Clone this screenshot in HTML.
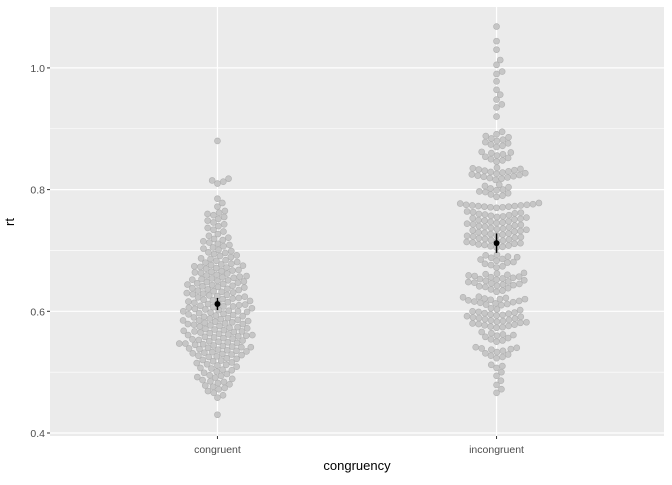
<!DOCTYPE html>
<html><head><meta charset="utf-8"><style>
body{margin:0;background:#fff;font-family:"Liberation Sans",sans-serif}
</style></head><body>
<svg id="chart" width="672" height="480" xmlns="http://www.w3.org/2000/svg">
<rect x="50" y="7" width="614" height="429" fill="#ebebeb"/>
<g id="grid"></g><g id="pts"></g><g id="axes"></g>
<text x="14" y="222" transform="rotate(-90 14 222)" font-size="13" text-anchor="middle" fill="#000">rt</text>
<text x="357" y="470" font-size="13" text-anchor="middle" fill="#000">congruency</text>
</svg>
<script>
const categories=["congruent","incongruent"];
const congruentRt=[430,458,462,466,469,472,474,476,478,480,482,484,485,487,489,491,492,494,495,497,499,501,503,504,506,507,509,511,512,513,515,516,518,519,520,522,523,525,526,527,528,529,530,531,532,533,534,535,536,537,538,539,540,541,541,542,543,544,545,546,547,547,548,549,550,551,552,553,554,555,556,557,558,559,560,561,561,562,563,564,565,566,567,567,568,569,570,571,572,573,574,575,576,577,578,579,579,580,581,582,583,584,585,585,586,587,588,589,590,591,592,593,594,595,596,597,598,599,600,600,601,602,603,604,605,606,607,608,608,609,610,611,612,613,614,615,616,617,618,619,620,621,622,623,624,625,626,627,628,629,630,631,632,633,634,635,636,637,638,639,640,641,642,643,644,645,646,647,648,649,650,651,652,653,654,655,656,657,658,659,660,662,663,664,665,666,667,668,670,671,672,673,674,675,676,677,678,680,681,683,684,686,687,689,691,692,694,696,697,699,701,703,705,707,709,711,713,715,717,719,721,724,727,731,734,737,740,743,746,749,752,755,758,760,762,765,772,778,785,810,813,815,818,880];
const incongruentRt=[466,472,479,486,494,500,507,510,512,523,525,527,529,531,533,535,537,538,539,540,541,550,552,554,556,558,560,561,562,564,566,573,574,575,576,577,578,579,580,581,582,583,584,585,586,587,588,589,590,591,592,593,594,595,596,597,598,599,600,602,603,605,610,611,612,613,614,615,616,617,618,619,620,620,621,622,623,624,632,634,636,638,640,641,642,643,644,645,646,647,648,649,650,651,652,653,654,655,656,657,658,659,660,661,662,663,672,674,676,678,680,681,683,685,686,688,689,690,692,693,705,706,707,708,709,710,711,712,713,714,715,716,717,718,719,720,721,722,723,724,725,726,727,728,729,730,731,732,733,734,735,736,737,738,739,740,741,742,743,744,745,746,747,748,749,750,751,752,753,754,755,756,757,758,759,760,761,762,763,764,770,771,771,772,772,773,773,774,774,775,775,776,777,778,788,790,792,794,796,797,799,800,802,804,806,808,816,818,819,820,821,822,823,824,825,826,827,828,829,830,831,832,833,834,835,836,846,848,850,852,854,856,858,860,861,862,870,872,874,876,878,880,882,884,886,888,891,895,920,935,940,948,956,964,978,990,994,1005,1013,1030,1044,1068];
const means=[0.612,0.712];
const errLo=[0.602,0.696];
const errHi=[0.622,0.728];
const yTicks=[0.4,0.6,0.8,1.0];
const yMinor=[0.5,0.7,0.9];

const NS="http://www.w3.org/2000/svg";
const L=50,W=614,T=7,B=436;
const y=v=>433-(v-0.4)*608.5;
const x=i=>L+(i+0.6)/2.2*W;
function el(tag,attrs,parent){const e=document.createElementNS(NS,tag);for(const k in attrs)e.setAttribute(k,attrs[k]);parent.appendChild(e);return e;}
const grid=document.getElementById('grid'),pts=document.getElementById('pts'),axes=document.getElementById('axes');
yMinor.forEach(v=>{const l=el('line',{x1:L,x2:L+W,y1:y(v),y2:y(v),stroke:'#fff','stroke-width':0.6},grid);

});
yTicks.forEach(v=>{const l=el('line',{x1:L,x2:L+W,y1:y(v),y2:y(v),stroke:'#fff','stroke-width':1.2},grid);


const t=el('text',{x:L-5,y:y(v)+4,'font-size':10.5,'text-anchor':'end',fill:'#4d4d4d'},axes);t.textContent=v.toFixed(1);


const tk=el('line',{x1:L-3,x2:L,y1:y(v),y2:y(v),stroke:'#333'},axes);

});
categories.forEach((c,i)=>{const l=el('line',{x1:x(i),x2:x(i),y1:T,y2:B,stroke:'#fff','stroke-width':1.2},grid);


const t=el('text',{x:x(i),y:B+17,'font-size':10.5,'text-anchor':'middle',fill:'#4d4d4d'},axes);t.textContent=c;


const tk=el('line',{x1:x(i),x2:x(i),y1:B,y2:B+3,stroke:'#333'},axes);

});
const D=6.1;
[congruentRt,incongruentRt].forEach((arr,i)=>{
 const placed=[];
 arr.slice().sort((a,b)=>a-b).forEach(ms=>{
  const py=y(ms/1000);let best=0;
  const cands=[0];
  placed.forEach(p=>{const dy=Math.abs(p.y-py);if(dy<D){const dx=Math.sqrt(D*D-dy*dy);cands.push(p.x+dx,p.x-dx);}});
  cands.sort((a,b)=>Math.abs(a)-Math.abs(b));
  for(const cx of cands){if(placed.every(p=>(p.x-cx)**2+(p.y-py)**2>=D*D-0.01)){best=cx;break;}}
  placed.push({x:best,y:py});
  const c=el('circle',{cx:x(i)+best,cy:py,r:3,fill:'#c6c6c6',stroke:'#b0b0b0','stroke-width':0.6},pts);
  
  
 });
 const e=el('line',{x1:x(i),x2:x(i),y1:y(errLo[i]),y2:y(errHi[i]),stroke:'#000','stroke-width':1.5},pts);
 
 
 const m=el('circle',{cx:x(i),cy:y(means[i]),r:3,fill:'#000'},pts);
 
 
});
</script>
</body></html>
